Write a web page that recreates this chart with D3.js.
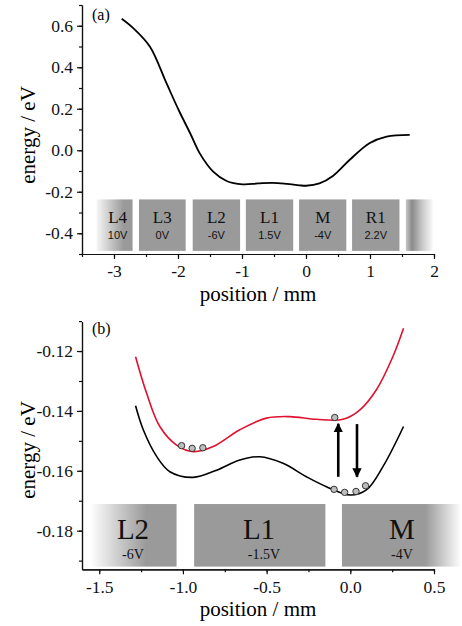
<!DOCTYPE html>
<html>
<head>
<meta charset="utf-8">
<script src="https://cdn.jsdelivr.net/npm/d3@7"></script>
<style>
body { margin: 0; background: #fff; }
</style>
</head>
<body>
<svg id="chart" width="462" height="626"></svg>
<script>
// ---- panel (a) data ----
var posA = [-2.88, -2.7, -2.44, -2.18, -1.99, -1.81, -1.66, -1.45, -1.24, -0.99, -0.75, -0.52, -0.3, -0.1, 0.0, 0.21, 0.42, 0.68, 0.99, 1.26, 1.62]
var energyA = [0.634, 0.589, 0.50, 0.323, 0.194, 0.082, -0.015, -0.103, -0.148, -0.164, -0.160, -0.157, -0.162, -0.169, -0.171, -0.160, -0.124, -0.047, 0.034, 0.066, 0.074]
var elecNamesA = ["L4", "L3", "L2", "L1", "M", "R1", ""]
var elecVoltsA = ["10V", "0V", "-6V", "1.5V", "-4V", "2.2V", ""]
var elecStartA = [-3.27, -2.61, -1.77, -0.94, -0.108, 0.72, 1.56]
var elecEndA = [-2.71, -1.88, -1.03, -0.20, 0.63, 1.46, 2.0]
var tickXA = [-3, -2, -1, 0, 1, 2]
var tickYA = [0.6, 0.4, 0.2, 0.0, -0.2, -0.4]

// ---- panel (b) data ----
var posB = [-1.283, -1.237, -1.157, -1.078, -0.939, -0.799, -0.660, -0.541, -0.402, -0.262, -0.143, 0.0, 0.096, 0.195, 0.318]
var lowerB = [-0.1383, -0.1463, -0.1552, -0.1603, -0.1622, -0.1598, -0.1564, -0.1553, -0.1575, -0.1620, -0.1653, -0.1681, -0.1664, -0.1586, -0.1452]
var posRed = [-1.283, -1.217, -1.138, -1.038, -0.939, -0.819, -0.660, -0.501, -0.362, -0.203, -0.044, 0.056, 0.155, 0.254, 0.318]
var upperB = [-0.1219, -0.1341, -0.1452, -0.1514, -0.1536, -0.1519, -0.1463, -0.1424, -0.1419, -0.1428, -0.1428, -0.1397, -0.1330, -0.1219, -0.1124]
var ionX = [-1.008, -0.945, -0.881, -0.093, -0.097, -0.034, 0.034, 0.091]
var ionE = [-0.1516, -0.1525, -0.1523, -0.1422, -0.1662, -0.1672, -0.1669, -0.1650]
var arrowX = [-0.072, 0.040]
var arrowFrom = [-0.162, -0.1444]
var arrowTo = [-0.1443, -0.162]
var elecNamesB = ["L2", "L1", "M"]
var elecVoltsB = ["-6V", "-1.5V", "-4V"]
var elecStartB = [-1.555, -0.933, -0.050]
var elecEndB = [-1.038, -0.149, 0.663]
var tickXB = [-1.5, -1.0, -0.5, 0.0, 0.5]
var tickYB = [-0.12, -0.14, -0.16, -0.18]

var SERIF = "Liberation Serif"
var SANS = "Liberation Sans"

var svg = d3.select("#chart")
var defs = svg.append("defs")

function grad(id, stops) {
    var g = defs.append("linearGradient").attr("id", id)
        .attr("x1", "0%").attr("x2", "100%").attr("y1", "0%").attr("y2", "0%")
    stops.forEach(s => g.append("stop").attr("offset", s[0]).attr("stop-color", s[1]))
}
grad("fadeLeftA", [["0%", "#f6f6f6"], ["75%", "#9a9a9a"], ["100%", "#9a9a9a"]])
grad("fadeEndA", [["0%", "#c8c8c8"], ["22%", "#8a8a8a"], ["55%", "#c4c4c4"], ["100%", "#ffffff"]])
grad("fadeLeftB", [["0%", "#ffffff"], ["65%", "#9a9a9a"], ["100%", "#9a9a9a"]])
grad("fadeRightB", [["0%", "#9a9a9a"], ["70%", "#9a9a9a"], ["100%", "#ffffff"]])

var fmt = d => d3.format(".1f")(d).replace("\u2212", "-")
var fmt2 = d => d3.format(".2f")(d).replace("\u2212", "-")

function styleAxis(sel) {
    sel.attr("font-family", SERIF).attr("font-size", 17.5)
    sel.selectAll("text").attr("fill", "#111")
    sel.selectAll("path.domain, .tick line").attr("stroke", "#111").attr("stroke-width", 1.2)
}

function axes(g, x, y, xMajor, xMinor, yMajor, yMinor, xf, yf) {
    var h = y.range()[0]
    g.append("g").attr("transform", "translate(0," + h + ")")
        .call(d3.axisBottom(x).tickValues(xMinor).tickSize(3).tickSizeOuter(0).tickFormat(""))
        .call(styleAxis)
    g.append("g").attr("transform", "translate(0," + h + ")")
        .call(d3.axisBottom(x).tickValues(xMajor).tickSize(5).tickPadding(6).tickSizeOuter(0).tickFormat(xf))
        .call(styleAxis)
    g.append("g").attr("transform", "translate(" + x.range()[0] + ",0)")
        .call(d3.axisLeft(y).tickValues(yMinor).tickSize(3).tickSizeOuter(0).tickFormat(""))
        .call(styleAxis)
    g.append("g").attr("transform", "translate(" + x.range()[0] + ",0)")
        .call(d3.axisLeft(y).tickValues(yMajor).tickSize(5).tickPadding(4).tickSizeOuter(0).tickFormat(yf))
        .call(styleAxis)
}

// ================= panel (a) =================
var xA = d3.scaleLinear().domain([-3.5, 2]).range([82, 434])
var yA = d3.scaleLinear().domain([-0.5, 0.7]).range([254, 5])
var gA = svg.append("g").attr("font-family", SERIF)

var elA = gA.selectAll("g.el").data(elecNamesA).enter().append("g")
elA.append("rect")
    .attr("x", (d, i) => xA(elecStartA[i]))
    .attr("width", (d, i) => xA(elecEndA[i]) - xA(elecStartA[i]))
    .attr("y", yA(-0.237))
    .attr("height", yA(-0.485) - yA(-0.237))
    .attr("fill", (d, i) => i == 0 ? "url(#fadeLeftA)" : (i == elecNamesA.length - 1 ? "url(#fadeEndA)" : "#9a9a9a"))
elA.append("text")
    .attr("x", (d, i) => (xA(elecStartA[i]) + xA(elecEndA[i])) / 2 + (i == 0 ? 3 : 0))
    .attr("y", 223)
    .attr("text-anchor", "middle")
    .attr("font-family", SERIF)
    .attr("font-size", 17)
    .attr("fill", "#111")
    .text(d => d)
elA.append("text")
    .attr("x", (d, i) => (xA(elecStartA[i]) + xA(elecEndA[i])) / 2 + (i == 0 ? 3 : 0))
    .attr("y", 239)
    .attr("text-anchor", "middle")
    .attr("font-family", SANS)
    .attr("font-size", 11)
    .attr("fill", "#111")
    .text((d, i) => elecVoltsA[i])

axes(gA, xA, yA, tickXA, d3.range(-3.5, 2.01, 0.5),
    tickYA, d3.range(-0.5, 0.71, 0.1), d => String(d).replace("\u2212", "-"), fmt)

gA.append("path")
    .datum(posA.map((d, i) => [d, energyA[i]]))
    .attr("fill", "none")
    .attr("stroke", "#000")
    .attr("stroke-width", 1.8)
    .attr("d", d3.line().x(d => xA(d[0])).y(d => yA(d[1])).curve(d3.curveCatmullRom.alpha(0.5)))

gA.append("text").attr("x", 92).attr("y", 20).attr("font-size", 16).text("(a)")
gA.append("text").attr("transform", "translate(35,135) rotate(-90)")
    .attr("text-anchor", "middle").attr("font-size", 21).text("energy / eV")
gA.append("text").attr("x", 258).attr("y", 301)
    .attr("text-anchor", "middle").attr("font-size", 21).text("position / mm")

// ================= panel (b) =================
var xB = d3.scaleLinear().domain([-1.603, 0.5]).range([82, 434])
var yB = d3.scaleLinear().domain([-0.1929, -0.1102]).range([569.3, 321.7])
var gB = svg.append("g").attr("font-family", SERIF)

var elB = gB.selectAll("g.el").data(elecNamesB).enter().append("g")
elB.append("rect")
    .attr("x", (d, i) => xB(elecStartB[i]))
    .attr("width", (d, i) => xB(elecEndB[i]) - xB(elecStartB[i]))
    .attr("y", yB(-0.1711))
    .attr("height", yB(-0.192) - yB(-0.1711))
    .attr("fill", (d, i) => i == 0 ? "url(#fadeLeftB)" : (i == elecNamesB.length - 1 ? "url(#fadeRightB)" : "#9a9a9a"))
var labelXB = [133, 259, 402]
elB.append("text")
    .attr("x", (d, i) => labelXB[i])
    .attr("y", 539)
    .attr("text-anchor", "middle")
    .attr("font-size", 29)
    .attr("fill", "#111")
    .text(d => d)
elB.append("text")
    .attr("x", (d, i) => labelXB[i] + (i == 1 ? 5 : 0))
    .attr("y", 559)
    .attr("text-anchor", "middle")
    .attr("font-size", 14)
    .attr("fill", "#111")
    .text((d, i) => elecVoltsB[i])

axes(gB, xB, yB, tickXB, d3.range(-1.5, 0.51, 0.25),
    tickYB, [-0.11, -0.12, -0.13, -0.14, -0.15, -0.16, -0.17, -0.18, -0.19], fmt, fmt2)

var lineB = d3.line().x(d => xB(d[0])).y(d => yB(d[1])).curve(d3.curveCatmullRom.alpha(0.5))
gB.append("path")
    .datum(posB.map((d, i) => [d, lowerB[i]]))
    .attr("fill", "none").attr("stroke", "#000").attr("stroke-width", 1.6)
    .attr("d", lineB)
gB.append("path")
    .datum(posRed.map((d, i) => [d, upperB[i]]))
    .attr("fill", "none").attr("stroke", "#e0102f").attr("stroke-width", 1.6)
    .attr("d", lineB)

// arrows
defs.append("marker")
    .attr("id", "head")
    .attr("viewBox", "0 0 10 10")
    .attr("refX", 9).attr("refY", 5)
    .attr("markerWidth", 3.6).attr("markerHeight", 4.4)
    .attr("markerUnits", "strokeWidth")
    .attr("orient", "auto")
    .append("path").attr("d", "M0,0 L10,5 L0,10 Z").attr("fill", "#000")
gB.selectAll("line.arrow").data(arrowX).enter().append("line")
    .attr("x1", d => xB(d)).attr("x2", d => xB(d))
    .attr("y1", (d, i) => yB(arrowFrom[i]))
    .attr("y2", (d, i) => yB(arrowTo[i]))
    .attr("stroke", "#000").attr("stroke-width", 2.6)
    .attr("marker-end", "url(#head)")

gB.selectAll("circle.ion").data(ionX).enter().append("circle")
    .attr("cx", d => xB(d))
    .attr("cy", (d, i) => yB(ionE[i]))
    .attr("r", 3.2)
    .attr("fill", "#bdbdbd")
    .attr("stroke", "#333")
    .attr("stroke-width", 1)

gB.append("text").attr("x", 92).attr("y", 334).attr("font-size", 16).text("(b)")
gB.append("text").attr("transform", "translate(35,450) rotate(-90)")
    .attr("text-anchor", "middle").attr("font-size", 21).text("energy / eV")
gB.append("text").attr("x", 258).attr("y", 616)
    .attr("text-anchor", "middle").attr("font-size", 21).text("position / mm")
</script>
</body>
</html>
